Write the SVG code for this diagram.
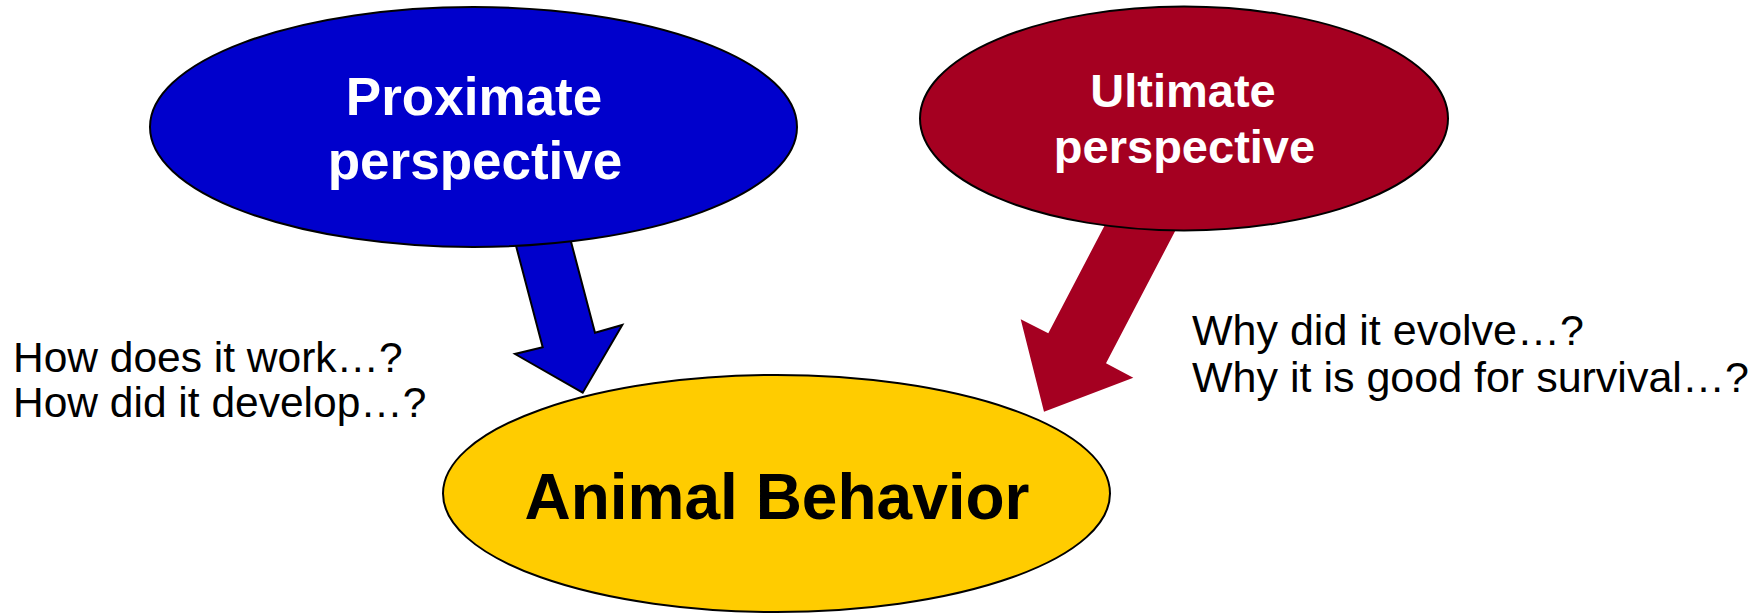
<svg xmlns="http://www.w3.org/2000/svg" width="1756" height="613" viewBox="0 0 1756 613">
<style>
.node { stroke: #000; stroke-width: 2; }
.title { font-family: "Liberation Sans", Arial, sans-serif; font-weight: bold; text-anchor: middle; }
.note { font-family: "Liberation Sans", Arial, sans-serif; fill: #000; }
</style>
<rect width="1756" height="613" fill="#fff"/>
<g id="connectors">
  <polygon id="arrow-proximate" points="504,200 542.7,347.3 515,354 582.7,392.7 622.3,325 595,332.7 560,200" fill="#0000CC" stroke="#000" stroke-width="2" stroke-linejoin="miter"/>
  <polygon id="arrow-ultimate" points="1128.4,180 1048.3,333.3 1020.7,319.3 1044,411.7 1133.3,377.7 1106,363.3 1201.8,180" fill="#A50021"/>
</g>
<g id="proximate">
  <ellipse class="node" cx="473.5" cy="127" rx="323.5" ry="120" fill="#0000CC"/>
  <text class="title" x="474" y="115" font-size="53" fill="#fff">Proximate</text>
  <text class="title" x="475" y="179" font-size="53" fill="#fff">perspective</text>
</g>
<g id="ultimate">
  <ellipse class="node" cx="1184" cy="118.5" rx="264" ry="112" fill="#A50021"/>
  <text class="title" x="1183" y="107" font-size="47" fill="#fff">Ultimate</text>
  <text class="title" x="1184.5" y="163" font-size="47" fill="#fff">perspective</text>
</g>
<g id="animal-behavior">
  <ellipse class="node" cx="776.5" cy="493.5" rx="333.5" ry="118.5" fill="#FFCC00"/>
  <text class="title" x="777" y="519" font-size="64" fill="#000">Animal Behavior</text>
</g>
<g id="proximate-questions">
  <text class="note" x="13" y="372" font-size="42.5">How does it work…?</text>
  <text class="note" x="13" y="417" font-size="42.5">How did it develop…?</text>
</g>
<g id="ultimate-questions">
  <text class="note" x="1192" y="345" font-size="43">Why did it evolve…?</text>
  <text class="note" x="1192" y="392" font-size="43">Why it is good for survival…?</text>
</g>
</svg>
